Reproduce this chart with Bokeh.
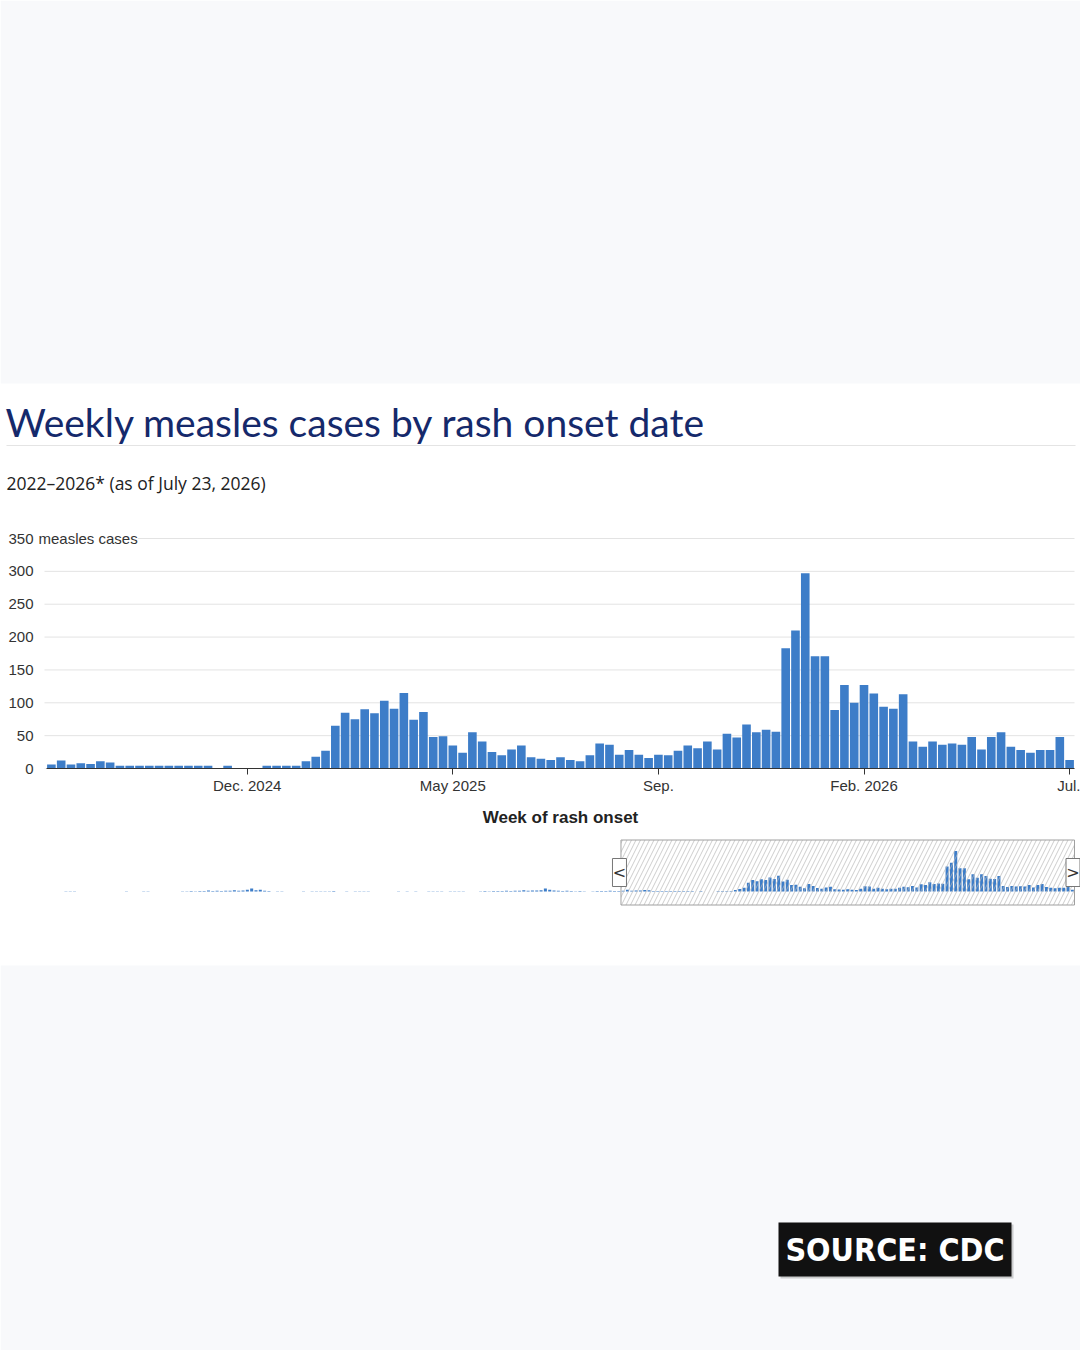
from bokeh.plotting import figure
from bokeh.models import Range1d, FixedTicker, Label
from bokeh.layouts import column
from bokeh.embed import file_html
from bokeh.resources import INLINE
from bokeh.core.properties import value
import pandas as pd

# ---------------- data ----------------
title_text = "Weekly measles cases by rash onset date"
subtitle_text = "2022\u20132026* (as of July 23, 2026)"
y_title = "measles cases"
x_title = "Week of rash onset"
source_text = "SOURCE: CDC"

first_week = "2024-07-21"          # first week shown in the main panel
weekly_cases = [6, 12, 6, 8, 7, 11, 9, 4, 4, 4, 4, 4, 4, 4, 4, 4, 4, 0, 4, 0, 0, 0,
                4, 4, 4, 4, 11, 18, 27, 65, 85, 75,
                90, 84, 103, 91, 115, 74, 86, 48, 49, 35, 24, 55, 41, 25, 20, 29, 35,
                17, 15, 13, 17, 13, 11, 20, 38, 36, 21, 28, 21, 16, 21,
                20, 27, 35, 31, 41, 29, 53, 47, 67, 55, 59, 56,
                183, 210, 297, 171, 171, 89, 127, 100, 127, 114, 94, 91, 113,
                41, 33, 41, 36, 38, 36, 48, 29, 48, 55, 33, 28, 24, 28, 28, 48, 13]

nav_first_week = "2022-01-02"      # navigator starts earlier
earlier_cases = [0, 0, 0, 0, 1, 1, 1, 0, 0, 0, 0, 0, 0, 0, 0, 0, 0, 0, 1, 0, 0, 0,
                 1, 1, 0, 0, 0, 0, 0, 0, 0,
                 2, 2, 3, 2, 3, 4, 8, 4, 5, 4, 6, 5, 10, 6, 7, 12, 22, 10, 12, 6, 3,
                 0, 1, 1, 0, 0, 0, 0, 1, 0, 2, 2, 1, 2, 2, 3, 0, 0, 1, 0, 2, 2, 1, 2,
                 0, 0, 0, 0, 0, 0, 1, 0, 1, 0, 1, 0, 0,
                 2, 2, 1, 2, 0, 1, 2, 1, 2, 0, 0, 0,
                 2, 3, 2, 3, 3, 4, 5, 4, 5, 6, 9, 6, 7, 8, 10, 22, 12, 8, 6, 4, 5, 3,
                 2, 3, 2, 0, 2, 3, 4, 3, 5, 4, 4]

tick_dates = ["2024-12-08", "2025-05-04", "2025-09-28", "2026-02-22", "2026-07-19"]
tick_labels = ["Dec. 2024", "May 2025", "Sep.", "Feb. 2026", "Jul."]
y_ticks = [0, 50, 100, 150, 200, 250, 300, 350]

# ---------------- styles / layout ----------------
BLUE = "#3d7dc8"
PAGE_BG = "#f8f9fb"
AXIS_FONT = "'Liberation Sans', Arial, sans-serif"
W = 1080
T_H = 525            # header figure: canvas 0..525
A_H = 275            # chart figure: canvas 525..800
B_H = 550            # navigator + footer: canvas 800..1350
BAR_L, BAR_R = 46, 1074          # pixel extent of bars
FRAME_L = 36
PLOT_TOP, PLOT_BOT = 538, 768    # pixel y of top tick and baseline

# ---------- header ----------
t = figure(width=W, height=T_H, x_range=Range1d(0, W), y_range=Range1d(T_H, 0),
           output_backend="svg", toolbar_location=None, tools="", title=None,
           x_axis_location=None, y_axis_location=None, min_border=0, frame_align=False)
t.grid.visible = False
t.outline_line_color = None
t.background_fill_color = "white"
t.border_fill_color = "white"
t.quad(left=[0], right=[W], top=[0], bottom=[383], fill_color=PAGE_BG, line_color=None)
t.quad(left=[6], right=[1075], top=[444.5], bottom=[445.5], fill_color="#e4e4e4",
       line_color=None)
t.add_layout(Label(x=5, y=421, text=title_text, text_font="Lato", text_font_size="39px",
                   text_color="#15296b", text_baseline="middle", text_align="left"))
t.add_layout(Label(x=6, y=482, text=subtitle_text, text_font="Open Sans",
                   text_font_size="17.5px", text_color="#222222",
                   text_baseline="middle", text_align="left"))

# ---------- main chart ----------
start = pd.Timestamp(first_week)
n = len(weekly_cases)
xs = list(range(n))
tick_pos = [(pd.Timestamp(d) - start).days / 7 for d in tick_dates]
pitch = (BAR_R - BAR_L) / n
ky = (PLOT_BOT - PLOT_TOP) / y_ticks[-1]

p = figure(width=W, height=A_H,
           x_range=Range1d(-0.5 - (BAR_L - FRAME_L) / pitch, n - 0.5),
           y_range=Range1d(0, y_ticks[-1] + (PLOT_TOP - T_H) / ky),
           output_backend="svg", toolbar_location=None, tools="", title=None,
           min_border_left=FRAME_L, min_border_right=W - BAR_R, min_border_top=0,
           min_border_bottom=T_H + A_H - PLOT_BOT, frame_align=False)
p.background_fill_color = "white"
p.border_fill_color = "white"
p.outline_line_color = None
p.xgrid.visible = False
p.ygrid.visible = False

gx0 = -0.5 - 2 / pitch
gx1 = n - 0.5 + 1 / pitch
p.segment(x0=[gx0] * len(y_ticks), x1=[gx1] * len(y_ticks), y0=y_ticks, y1=y_ticks,
          line_color="#e3e3e3", line_width=1)

p.vbar(x=xs, top=weekly_cases, width=0.88, fill_color=BLUE, line_color=None)

p.yaxis.ticker = FixedTicker(ticks=y_ticks)
p.yaxis.axis_line_color = None
p.yaxis.major_tick_line_color = None
p.yaxis.major_tick_out = 0
p.yaxis.major_tick_in = 0
p.yaxis.minor_tick_line_color = None
p.yaxis.major_label_standoff = 3
p.yaxis.major_label_text_font = AXIS_FONT
p.yaxis.major_label_text_font_size = "15px"
p.yaxis.major_label_text_color = "#333333"

p.xaxis.ticker = FixedTicker(ticks=tick_pos)
p.xaxis.major_label_overrides = {tp: lb for tp, lb in zip(tick_pos, tick_labels)}
p.xaxis.bounds = (-0.5, n - 0.5)
p.xaxis.axis_line_color = "#333333"
p.xaxis.major_tick_line_color = "#333333"
p.xaxis.major_tick_out = 6
p.xaxis.major_tick_in = 0
p.xaxis.minor_tick_line_color = None
p.xaxis.major_label_standoff = 2
p.xaxis.major_label_text_font = AXIS_FONT
p.xaxis.major_label_text_font_size = "15px"
p.xaxis.major_label_text_color = "#333333"

p.add_layout(Label(x=-0.5 - 8 / pitch, y=y_ticks[-1], text=y_title, text_font=AXIS_FONT,
                   text_font_size="15px", text_color="#333333", text_baseline="middle",
                   text_align="left", background_fill_color="white",
                   background_fill_alpha=1))

# ---------- navigator + footer ----------
B_TOP = T_H + A_H
all_cases = earlier_cases + weekly_cases
m = len(all_cases)
nav_xs = list(range(m))
sel_start = (start - pd.Timestamp(nav_first_week)).days / 7
npitch = (BAR_R - BAR_L) / m
nk = 40.5 / max(all_cases)       # px per case in the navigator
nbase = 891 - B_TOP              # navigator baseline within this figure

q = figure(width=W, height=B_H, x_range=Range1d(0, W), y_range=Range1d(B_H, 0),
           output_backend="svg", toolbar_location=None, tools="", title=None,
           x_axis_location=None, y_axis_location=None, min_border=0, frame_align=False)
q.extra_x_ranges = {"wk": Range1d(-0.5 - BAR_L / npitch, m - 0.5 + (W - BAR_R) / npitch)}
q.extra_y_ranges = {"cases": Range1d(-(B_H - nbase) / nk, nbase / nk)}
q.grid.visible = False
q.outline_line_color = None
q.background_fill_color = "white"
q.border_fill_color = "white"

q.quad(left=[0], right=[W], top=[965 - B_TOP], bottom=[B_H], fill_color=PAGE_BG,
       line_color=None)

q.add_layout(Label(x=560, y=817 - B_TOP, text=x_title, text_font=AXIS_FONT,
                   text_font_size="17px", text_font_style="bold", text_color="#222222",
                   text_baseline="middle", text_align="center"))

q.vbar(x=nav_xs, top=all_cases, width=0.7, fill_color=BLUE, line_color=None,
       x_range_name="wk", y_range_name="cases")

q.quad(left=[sel_start - 0.5], right=[m - 0.5], top=[839.5 - B_TOP],
       bottom=[904.5 - B_TOP], x_range_name="wk", fill_alpha=0,
       line_color="#a0a0a0", line_width=1, hatch_pattern="/", hatch_color="#b8b8b8",
       hatch_scale=9, hatch_weight=0.7, hatch_alpha=1)
hx = [sel_start - 0.5 - 1.5 / npitch, m - 0.5 - 1.5 / npitch]
hy = [872 - B_TOP, 872 - B_TOP]
q.rect(x=hx, y=hy, width=14, height=28, width_units="screen", height_units="screen",
       x_range_name="wk", fill_color="white", line_color="#777777", line_width=1)
q.text(x=hx, y=hy, text=["<", ">"], x_range_name="wk", text_font=value("DejaVu Sans"),
       text_font_size="16px", text_color="#333333", text_align="center",
       text_baseline="middle")

# source badge
q.quad(left=[780], right=[1013], top=[1224 - B_TOP], bottom=[1278 - B_TOP],
       fill_color="black", fill_alpha=0.18, line_color=None)
q.quad(left=[778], right=[1011], top=[1222 - B_TOP], bottom=[1276 - B_TOP],
       fill_color="#111111", line_color=None)
q.add_layout(Label(x=894.5, y=1249 - B_TOP, text=source_text,
                   text_font="'DejaVu Sans Condensed', 'DejaVu Sans', sans-serif",
                   text_font_size="32px", text_font_style="bold", text_color="white",
                   text_align="center", text_baseline="middle"))

layout = column(t, p, q, spacing=0)
open("out.html", "w").write(file_html(layout, INLINE))
